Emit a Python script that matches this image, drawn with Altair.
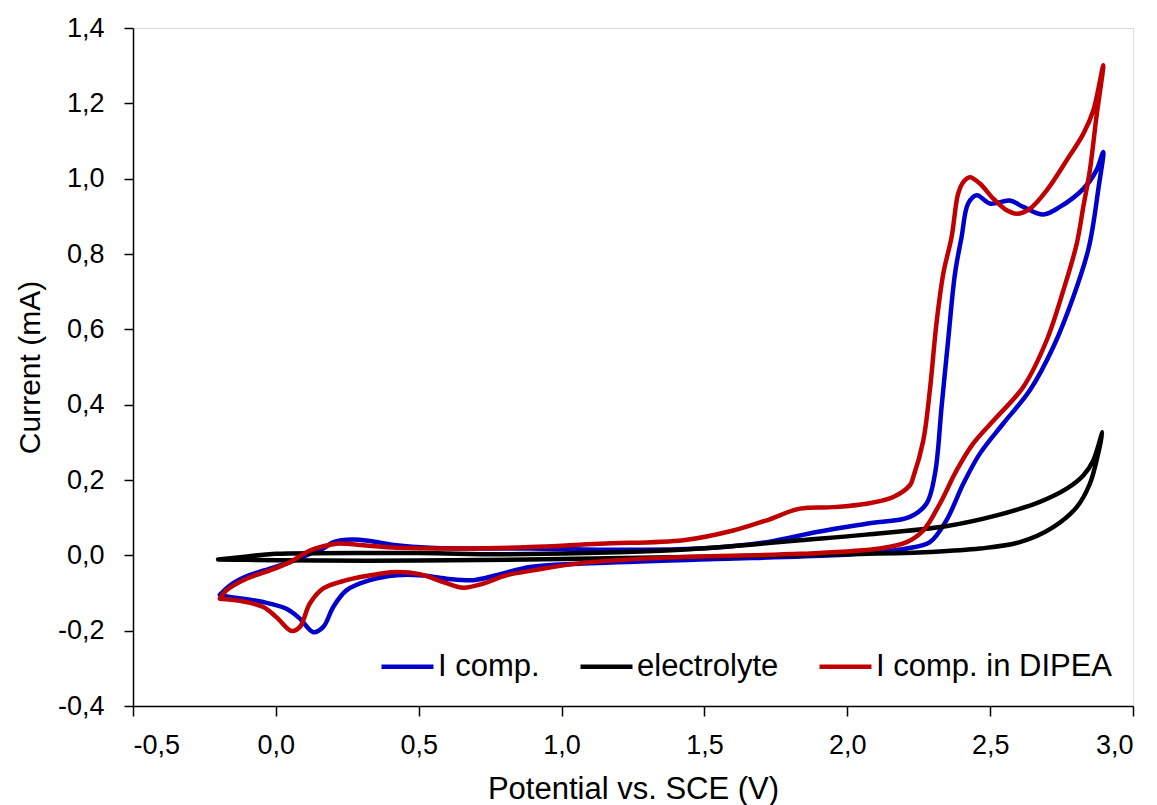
import altair as alt
import pandas as pd

# ---- data (Potential V, Current mA), traced along each loop ----
icomp_x = [-0.196, -0.161, -0.103, -0.021, 0.049, 0.119, 0.166, 0.201, 0.271, 0.329, 0.422, 0.539,
           0.656, 0.889, 1.134, 1.484, 1.718, 1.893, 2.067, 2.219, 2.277, 2.307, 2.330, 2.353, 2.377,
           2.400, 2.423, 2.453, 2.499, 2.569, 2.616, 2.686, 2.744, 2.826, 2.872, 2.896,
           2.878, 2.861, 2.843, 2.791, 2.721, 2.639, 2.546, 2.464, 2.406, 2.347, 2.289, 2.208, 2.114,
           1.951, 1.484, 1.076, 0.889, 0.772, 0.691, 0.597, 0.504, 0.422, 0.329, 0.247, 0.201, 0.166,
           0.131, 0.084, 0.037, -0.044, -0.173, -0.196]
icomp_y = [-0.105, -0.080, -0.056, -0.035, -0.018, 0.004, 0.018, 0.035, 0.042, 0.038, 0.027, 0.020,
           0.018, 0.018, 0.015, 0.018, 0.035, 0.062, 0.084, 0.102, 0.137, 0.217, 0.394, 0.571, 0.748,
           0.845, 0.934, 0.956, 0.934, 0.942, 0.925, 0.905, 0.925, 0.973, 1.022, 1.071,
           0.969, 0.880, 0.810, 0.686, 0.553, 0.438, 0.350, 0.270, 0.190, 0.093, 0.035, 0.018, 0.009,
           0.000, -0.011, -0.022, -0.031, -0.053, -0.066, -0.062, -0.053, -0.053, -0.066, -0.093, -0.137, -0.190,
           -0.204, -0.168, -0.142, -0.124, -0.109, -0.105]

electrolyte_x = [-0.202, -0.1, 0.0, 0.5, 1.0, 1.5, 2.0, 2.289, 2.464, 2.604, 2.721, 2.803, 2.849, 2.878, 2.893,
                 2.861, 2.826, 2.768, 2.674, 2.523, 2.35, 2.067, 1.834, 1.484, 1.2, 0.784, 0.5, 0.0, -0.1, -0.202]
electrolyte_y = [-0.011, -0.012, -0.013, -0.014, -0.010, -0.004, 0.003, 0.009, 0.018, 0.035, 0.075, 0.128, 0.190, 0.270, 0.327,
                 0.252, 0.212, 0.177, 0.142, 0.106, 0.078, 0.055, 0.040, 0.018, 0.008, 0.003, 0.006, 0.004, -0.003, -0.011]

dipea_x = [-0.196, -0.173, -0.103, -0.021, 0.049, 0.119, 0.166, 0.212, 0.306, 0.422, 0.656, 0.889, 1.134,
           1.426, 1.601, 1.718, 1.834, 1.951, 2.067, 2.161, 2.219, 2.231, 2.266, 2.289, 2.312, 2.336, 2.365,
           2.388, 2.406, 2.429, 2.464, 2.511, 2.558, 2.593, 2.639, 2.698, 2.768, 2.826, 2.861, 2.896,
           2.872, 2.849, 2.826, 2.803, 2.756, 2.698, 2.616, 2.523, 2.441, 2.383, 2.324, 2.266, 2.208, 2.114,
           1.834, 1.367, 1.076, 0.901, 0.807, 0.726, 0.656, 0.586, 0.504, 0.422, 0.364, 0.247, 0.166, 0.119,
           0.084, 0.055, 0.002, -0.044, -0.126, -0.196]
dipea_y = [-0.115, -0.093, -0.062, -0.040, -0.018, 0.013, 0.024, 0.031, 0.027, 0.020, 0.018, 0.022, 0.031,
           0.040, 0.066, 0.093, 0.124, 0.128, 0.137, 0.155, 0.186, 0.208, 0.305, 0.438, 0.615, 0.748, 0.845,
           0.960, 0.991, 1.004, 0.987, 0.947, 0.916, 0.907, 0.920, 0.969, 1.049, 1.119, 1.181, 1.301,
           1.164, 1.022, 0.925, 0.827, 0.703, 0.571, 0.447, 0.367, 0.297, 0.226, 0.137, 0.066, 0.035, 0.018,
           0.004, -0.006, -0.020, -0.040, -0.053, -0.075, -0.086, -0.071, -0.050, -0.044, -0.049, -0.066, -0.088, -0.128,
           -0.190, -0.201, -0.164, -0.137, -0.121, -0.115]

series_names = ["I comp.", "electrolyte", "I comp. in DIPEA"]
series_colors = ["#0000CC", "#000000", "#C00000"]
x_ticks = [-0.5, 0.0, 0.5, 1.0, 1.5, 2.0, 2.5, 3.0]
y_ticks = [-0.4, -0.2, 0.0, 0.2, 0.4, 0.6, 0.8, 1.0, 1.2, 1.4]

rows = []
for name, xs, ys in zip(series_names,
                        [icomp_x, electrolyte_x, dipea_x],
                        [icomp_y, electrolyte_y, dipea_y]):
    for i, (xv, yv) in enumerate(zip(xs, ys)):
        rows.append({"series": name, "x": xv, "y": yv, "order": i})
df = pd.DataFrame(rows)

FONT = "Liberation Sans"
label_expr = "replace(replace(format(datum.value, '.1f'), '.', ','), '\u2212', '-')"

color = alt.Color(
    "series:N",
    scale=alt.Scale(domain=series_names, range=series_colors),
    legend=alt.Legend(
        title=None, orient="none", direction="horizontal",
        legendX=246, legendY=610,
        symbolType="stroke", symbolStrokeWidth=4.5, symbolSize=2700,
        labelFont=FONT, labelFontSize=31, labelColor="black",
        labelOffset=2, columnPadding=31, labelLimit=400,
    ),
)

x_enc = alt.X(
    "x:Q",
    scale=alt.Scale(domain=[-0.5, 3.0], nice=False, zero=False),
    axis=alt.Axis(
        values=x_ticks, labelExpr=label_expr, title="Potential vs. SCE (V)",
        grid=False, tickSize=10, tickWidth=1.5, tickColor="black",
        domainColor="black", domainWidth=1.5,
        labelFont=FONT, labelFontSize=27, labelColor="black", labelPadding=16,
        titleFont=FONT, titleFontSize=31, titleFontWeight="normal", titleColor="black",
        titleBaseline="alphabetic", titleY=92,
    ),
)
y_enc = alt.Y(
    "y:Q",
    scale=alt.Scale(domain=[-0.4, 1.4], nice=False, zero=False),
    axis=alt.Axis(
        values=y_ticks, labelExpr=label_expr, title="Current (mA)",
        grid=False, tickSize=9, tickWidth=1.5, tickColor="black",
        domainColor="black", domainWidth=1.5,
        labelFont=FONT, labelFontSize=27, labelColor="black", labelPadding=20,
        titleFont=FONT, titleFontSize=30, titleFontWeight="normal", titleColor="black",
        titleBaseline="middle", titleX=-103,
    ),
)

layers = []
for name in series_names:
    layers.append(
        alt.Chart(df)
        .transform_filter(alt.datum.series == name)
        .mark_line(strokeWidth=4.5, interpolate="catmull-rom", strokeCap="round", strokeJoin="round")
        .encode(x=x_enc, y=y_enc, color=color, order="order:Q")
    )

chart = (
    alt.layer(*layers)
    .properties(width=1000, height=678,
                autosize=alt.AutoSizeParams(type="none"),
                padding={"left": 133, "top": 28, "right": 24, "bottom": 99})
    .configure_view(stroke="black", strokeWidth=1.5)
    .configure(background="white")
)

chart.save("out.html", embed_options={"renderer": "svg", "actions": False})
